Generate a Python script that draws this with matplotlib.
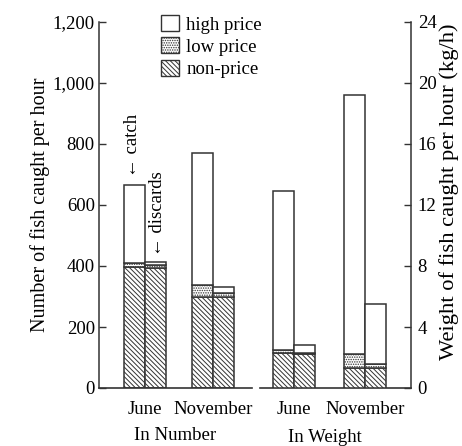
import matplotlib
matplotlib.use("Agg")
import matplotlib.pyplot as plt
from matplotlib.patches import Patch

plt.rcParams['font.family'] = ['Liberation Serif', 'DejaVu Serif']
plt.rcParams['hatch.linewidth'] = 0.7

# ---- data -------------------------------------------------------------
months = ["June", "November", "June", "November"]
panels = ["In Number", "In Weight"]

# number of fish caught per hour: [June, November]
num_catch_non = [398, 297]
num_catch_low = [11, 41]
num_catch_high = [257, 433]
num_disc_non = [394, 297]
num_disc_low = [9, 13]
num_disc_high = [9, 20]

# weight of fish caught per hour (kg/h): [June, November]
wt_catch_non = [2.29, 1.31]
wt_catch_low = [0.18, 0.92]
wt_catch_high = [10.44, 17.01]
wt_disc_non = [2.24, 1.33]
wt_disc_low = [0.05, 0.27]
wt_disc_high = [0.54, 3.92]

left_ticks = [0, 200, 400, 600, 800, 1000, 1200]
left_ticklabels = ["0", "200", "400", "600", "800", "1,000", "1,200"]
right_ticks = [0, 4, 8, 12, 16, 20, 24]

# ---- styling ----------------------------------------------------------
INK = "#333333"
FS = 13.5
HATCH_NON = "\\\\\\\\\\\\\\"
HATCH_LOW = "......."

fig = plt.figure(figsize=(4.62, 4.46), dpi=100)
ax = fig.add_axes([99 / 462, 58 / 446, 311.7 / 462, 366 / 446])
ax.set_xlim(0, 10)
ax.set_ylim(0, 1200)
ax2 = ax.twinx()
ax2.set_ylim(0, 24)

num_centers = [1.476, 3.667]
wt_centers = [6.256, 8.534]
w = 0.674


def stack(a, center, non, low, high, side):
    x = center + side * w / 2
    a.bar(x, non, w, facecolor="white", edgecolor=INK, linewidth=1.1,
          hatch=HATCH_NON)
    a.bar(x, low, w, bottom=non, facecolor="white", edgecolor=INK,
          linewidth=1.1, hatch=HATCH_LOW)
    a.bar(x, high, w, bottom=non + low, facecolor="white", edgecolor=INK,
          linewidth=1.1)


for i in range(2):
    stack(ax, num_centers[i], num_catch_non[i], num_catch_low[i],
          num_catch_high[i], -1)
    stack(ax, num_centers[i], num_disc_non[i], num_disc_low[i],
          num_disc_high[i], +1)
    stack(ax2, wt_centers[i], wt_catch_non[i], wt_catch_low[i],
          wt_catch_high[i], -1)
    stack(ax2, wt_centers[i], wt_disc_non[i], wt_disc_low[i],
          wt_disc_high[i], +1)

# spines
for s in ["top", "right", "bottom"]:
    ax.spines[s].set_visible(False)
for s in ["top", "left", "bottom"]:
    ax2.spines[s].set_visible(False)
ax.spines["left"].set_color(INK)
ax.spines["left"].set_linewidth(1.1)
ax2.spines["right"].set_color(INK)
ax2.spines["right"].set_linewidth(1.1)

# broken baseline between the two panels
ax.axhline(0, xmin=0, xmax=0.491, color=INK, linewidth=1.2, clip_on=False)
ax.axhline(0, xmin=0.517, xmax=1, color=INK, linewidth=1.2, clip_on=False)

ax.set_yticks(left_ticks)
ax.set_yticklabels(left_ticklabels)
ax.tick_params(axis="y", direction="in", length=5, width=1.0, color=INK,
               pad=3, labelsize=FS)
ax2.set_yticks(right_ticks)
ax2.tick_params(axis="y", direction="in", length=5, width=1.0, color=INK,
                pad=5, labelsize=FS)

ax.set_xticks(num_centers + wt_centers)
ax.set_xticklabels(months)
ax.tick_params(axis="x", length=0, pad=9, labelsize=FS)

ax.set_ylabel("Number of fish caught per hour", fontsize=14.5, labelpad=2)
fig.text(449 / 462, 1 - 192 / 446, "Weight of fish caught per hour (kg/h)",
         rotation=90, ha="center", va="center", fontsize=16.2)

fig.text(175 / 462, 1 - 436 / 446, panels[0], ha="center", va="center",
         fontsize=FS)
fig.text(325 / 462, 1 - 437 / 446, panels[1], ha="center", va="center",
         fontsize=FS)

# arrows marking the two bars of each pair
ax.text(1.09, 692, "\u2190 catch", rotation=90, ha="center", va="bottom",
        fontsize=FS)
ax.text(1.89, 433, "\u2190 discards", rotation=90, ha="center", va="bottom",
        fontsize=FS)

handles = [
    Patch(facecolor="white", edgecolor=INK, linewidth=1.0, label="high price"),
    Patch(facecolor="white", edgecolor=INK, linewidth=1.0, hatch=HATCH_LOW,
          label="low price"),
    Patch(facecolor="white", edgecolor=INK, linewidth=1.0, hatch=HATCH_NON,
          label="non-price"),
]
fig.legend(handles=handles, loc="upper left",
           bbox_to_anchor=(161 / 462, 1 - 15 / 446), frameon=False,
           handlelength=0.95, handleheight=0.95, handletextpad=0.4,
           labelspacing=0.2, borderpad=0, borderaxespad=0, fontsize=FS)

fig.savefig("out.png", dpi=100)
